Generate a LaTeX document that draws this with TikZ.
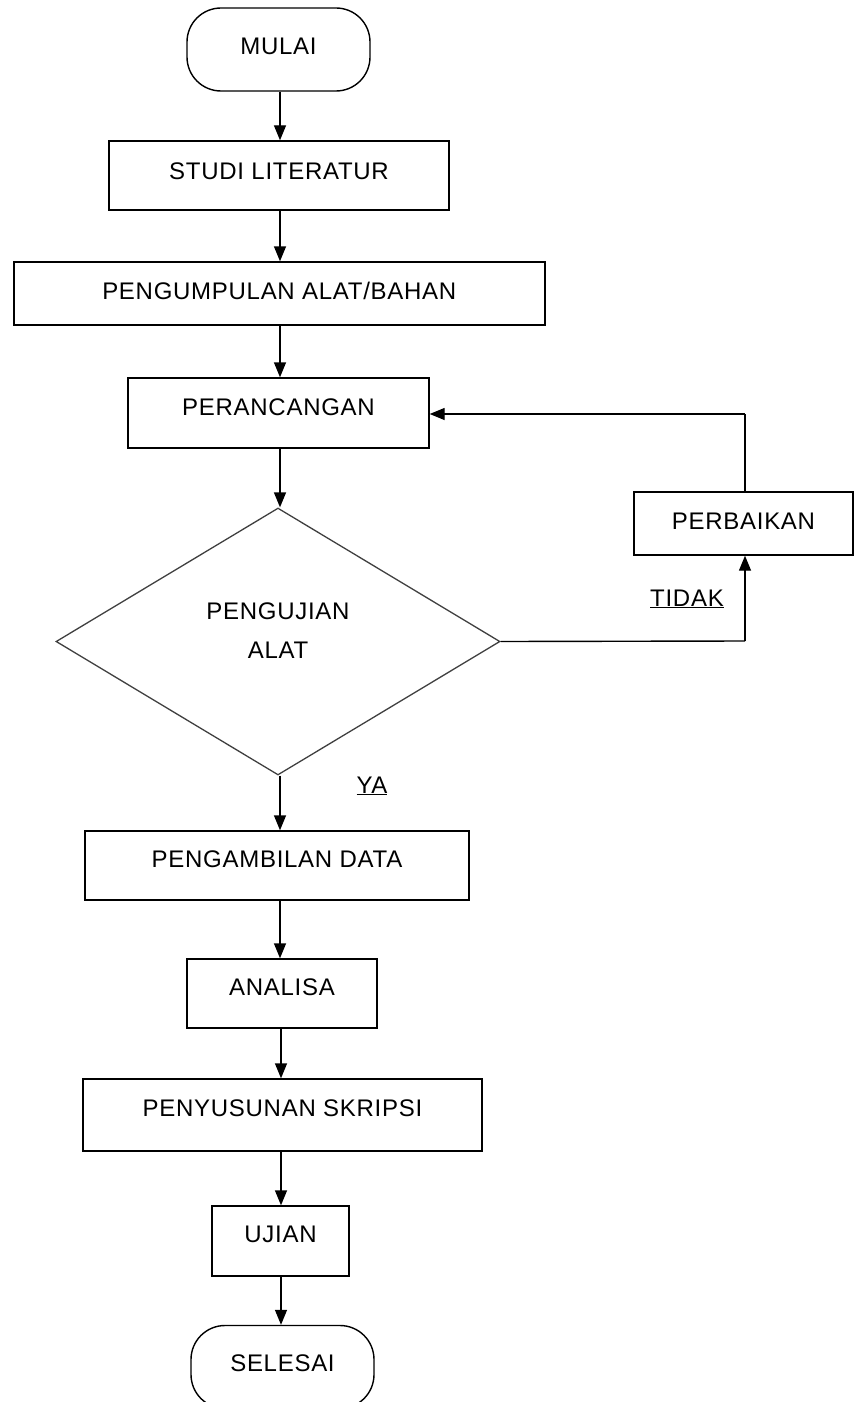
\documentclass[tikz,border=0pt]{standalone}
\usepackage{fontspec}
\setmainfont[LetterSpace=3]{Liberation Sans}
\usetikzlibrary{shapes.geometric,arrows.meta}
\begin{document}
\begin{tikzpicture}[x=1pt,y=-1pt,
  every node/.style={font=\fontsize{24}{39}\selectfont},
  box/.style={draw, line width=1.4pt, rectangle, inner sep=0pt},
  term/.style={draw, line width=1.4pt, rectangle, rounded corners=34pt, inner sep=0pt, text depth=7pt},
  dec/.style={draw=black!75, line width=1.3pt, diamond, inner sep=0pt, align=center, text depth=22pt},
  arr/.style={line width=1.4pt, -{Triangle[length=15pt,width=12pt]}},
  wire/.style={line width=1.4pt},
  lbl/.style={anchor=base, inner sep=0pt}]
\fill[white] (0,0) rectangle (856,1402);
\useasboundingbox (0,0) rectangle (856,1402);

\node[term, minimum width=183pt, minimum height=83pt] (mulai) at (278.5,49.5) {MULAI};
\node[box, minimum width=340pt, minimum height=69pt, text depth=9pt] (studi) at (279,175.5) {STUDI LITERATUR};
\node[box, minimum width=531pt, minimum height=63pt, text depth=5pt] (kumpul) at (279.3,293.5) {PENGUMPULAN ALAT/BAHAN};
\node[box, minimum width=301pt, minimum height=70pt, text depth=12pt] (rancang) at (278.5,413) {PERANCANGAN};
\node[dec, minimum width=444pt, minimum height=267pt] (uji) at (278,641.5) {PENGUJIAN\\ALAT};
\node[box, minimum width=219pt, minimum height=63pt, text depth=5pt] (perbaikan) at (743.5,523.5) {PERBAIKAN};
\node[box, minimum width=384pt, minimum height=69pt, text depth=12pt] (ambil) at (277,865.5) {PENGAMBILAN DATA};
\node[box, minimum width=190pt, minimum height=69pt, text depth=12pt] (analisa) at (282,993.5) {ANALISA};
\node[box, minimum width=399pt, minimum height=72pt, text depth=14pt] (susun) at (282.5,1115) {PENYUSUNAN SKRIPSI};
\node[box, minimum width=137pt, minimum height=70pt, text depth=13pt] (ujian) at (280.5,1241) {UJIAN};
\node[term, minimum width=183pt, minimum height=83pt] (selesai) at (282.5,1367) {SELESAI};

\node[lbl] (tidak) at (687,606) {\underline{TIDAK}};
\node[lbl] (ya) at (372,793) {\underline{YA}};

\coordinate (ax) at (280,0);
\coordinate (bx) at (281,0);
\coordinate (fbA) at (745,641);
\coordinate (fbB) at (745,414);

\draw[arr] (mulai.south -| ax) -- (studi.north -| ax);
\draw[arr] (studi.south -| ax) -- (kumpul.north -| ax);
\draw[arr] (kumpul.south -| ax) -- (rancang.north -| ax);
\draw[arr] (rancang.south -| ax) -- (uji.north -| ax);
\draw[arr] (uji.south -| ax) -- (ambil.north -| ax);
\draw[arr] (ambil.south -| ax) -- (analisa.north -| ax);
\draw[arr] (analisa.south -| bx) -- (susun.north -| bx);
\draw[arr] (susun.south -| bx) -- (ujian.north -| bx);
\draw[arr] (ujian.south -| bx) -- (selesai.north -| bx);

\draw[wire] (uji.east) -- (fbA);
\draw[arr] (fbA) -- (fbA |- perbaikan.south);
\draw[wire] (perbaikan.north -| fbB) -- (fbB);
\draw[arr] (fbB) -- (fbB -| rancang.east);
\end{tikzpicture}
\end{document}
